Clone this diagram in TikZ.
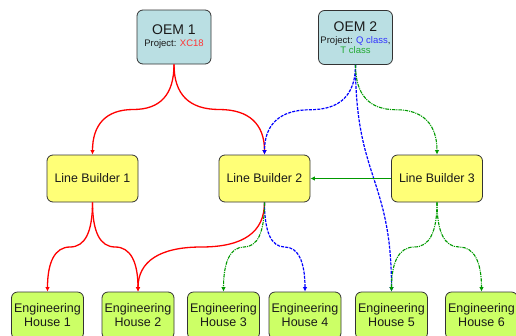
\documentclass[tikz,border=0pt]{standalone}
\usepackage{fontspec}
\setmainfont{Liberation Sans}
\usetikzlibrary{arrows.meta,calc}

\definecolor{oemfill}{HTML}{BADFE3}
\definecolor{lbfill}{HTML}{FFFF77}
\definecolor{ehfill}{HTML}{CCFF66}
\definecolor{boxline}{HTML}{333333}
\definecolor{boxtext}{HTML}{1A1A1A}
\definecolor{linkred}{HTML}{FF0000}
\definecolor{linkblue}{HTML}{0000FF}
\definecolor{linkgreen}{HTML}{009900}
\definecolor{txtred}{HTML}{FF3333}
\definecolor{txtblue}{HTML}{3333FF}
\definecolor{txtgreen}{HTML}{22AA33}

\tikzset{
  box/.style={draw=boxline, line width=0.8pt, rounded corners=6pt,
    align=center, inner sep=0pt, text=boxtext},
  oembox/.style={box, fill=oemfill, minimum width=74pt, minimum height=54pt,
    font=\fontsize{9.5}{12}\selectfont},
  lbbox/.style={box, fill=lbfill, minimum width=91pt, minimum height=47pt,
    font=\fontsize{12.4}{14}\selectfont},
  ehbox/.style={box, fill=ehfill, minimum width=72pt, minimum height=47pt,
    font=\fontsize{12.5}{14}\selectfont},
  tip/.style={-{Latex[length=4.5pt,width=4.5pt]}},
  redlink/.style={tip, draw=linkred, line width=1.3pt},
  bluelink/.style={tip, draw=linkblue, line width=1.2pt, dash pattern=on 3pt off 1.2pt},
  greenlink/.style={tip, draw=linkgreen, line width=1.1pt,
    dash pattern=on 3.5pt off 1pt on 1pt off 1pt},
  greensolid/.style={tip, draw=linkgreen, line width=1.1pt},
  % two quadratic arcs: vertical start, level at half height, vertical end
  scurve/.style={to path={let \p1=(\tikztostart), \p2=(\tikztotarget) in
    .. controls (\x1,{(2*\y1+\y2)/3}) and ({(5*\x1+\x2)/6},{0.5*(\y1+\y2)})
    .. ({0.5*(\x1+\x2)},{0.5*(\y1+\y2)})
    .. controls ({(\x1+5*\x2)/6},{0.5*(\y1+\y2)}) and (\x2,{(\y1+2*\y2)/3})
    .. (\p2)}},
  % one smooth S-bend
  longcurve/.style={to path={let \p1=(\tikztostart), \p2=(\tikztotarget) in
    .. controls (\x1,{0.5*(\y1+\y2)}) and (\x2,{0.5*(\y1+\y2)}) .. (\p2)}}
}

\begin{document}
\begin{tikzpicture}[x=1pt,y=-1pt]
\useasboundingbox (0,0) rectangle (516,335);
\clip (0,0) rectangle (516,335);

% manufacturers
\node[oembox] (oem1) at (174,37)
  {{\fontsize{14}{14}\selectfont OEM 1}\\Project: \textcolor{txtred}{XC18}};
\node[oembox] (oem2) at (355.5,37.5)
  {{\fontsize{14}{14}\selectfont OEM 2}\\Project: \textcolor{txtblue}{Q class},\\[-2pt]\textcolor{txtgreen}{T class}};

% line builders
\node[lbbox] (lb1) at (92.5,178.5) {Line Builder 1};
\node[lbbox] (lb2) at (264.5,178.5) {Line Builder 2};
\node[lbbox] (lb3) at (437,178.5) {Line Builder 3};

% engineering houses
\node[ehbox] (eh1) at (47.5,315.5) {Engineering\\House 1};
\node[ehbox] (eh2) at (138,315.5) {Engineering\\House 2};
\node[ehbox] (eh3) at (223.5,315.5) {Engineering\\House 3};
\node[ehbox] (eh4) at (305,315.5) {Engineering\\House 4};
\node[ehbox] (eh5) at (391.5,315.5) {Engineering\\House 5};
\node[ehbox] (eh6) at (481.5,315.5) {Engineering\\House 6};

% OEM 1 project
\draw[redlink] (oem1.south) to[scurve] (lb1.north);
\draw[redlink] (oem1.south) to[scurve] (lb2.north);
\draw[redlink] (lb1.south) to[scurve] (eh1.north);
\draw[redlink] (lb1.south) to[scurve] (eh2.north);
\draw[redlink] (lb2.south) to[scurve] (eh2.north);

% OEM 2, Q class
\draw[bluelink] (oem2.south) to[scurve] (lb2.north);
\draw[bluelink] (oem2.south) to[longcurve] (eh5.north);
\draw[bluelink] (lb2.south) to[scurve] (eh4.north);

% OEM 2, T class
\draw[greenlink] (oem2.south) to[scurve] (lb3.north);
\draw[greensolid] (lb3.west) -- (lb2.east);
\draw[greenlink] (lb2.south) to[scurve] (eh3.north);
\draw[greenlink] (lb3.south) to[scurve] (eh5.north);
\draw[greenlink] (lb3.south) to[scurve] (eh6.north);
\end{tikzpicture}
\end{document}
